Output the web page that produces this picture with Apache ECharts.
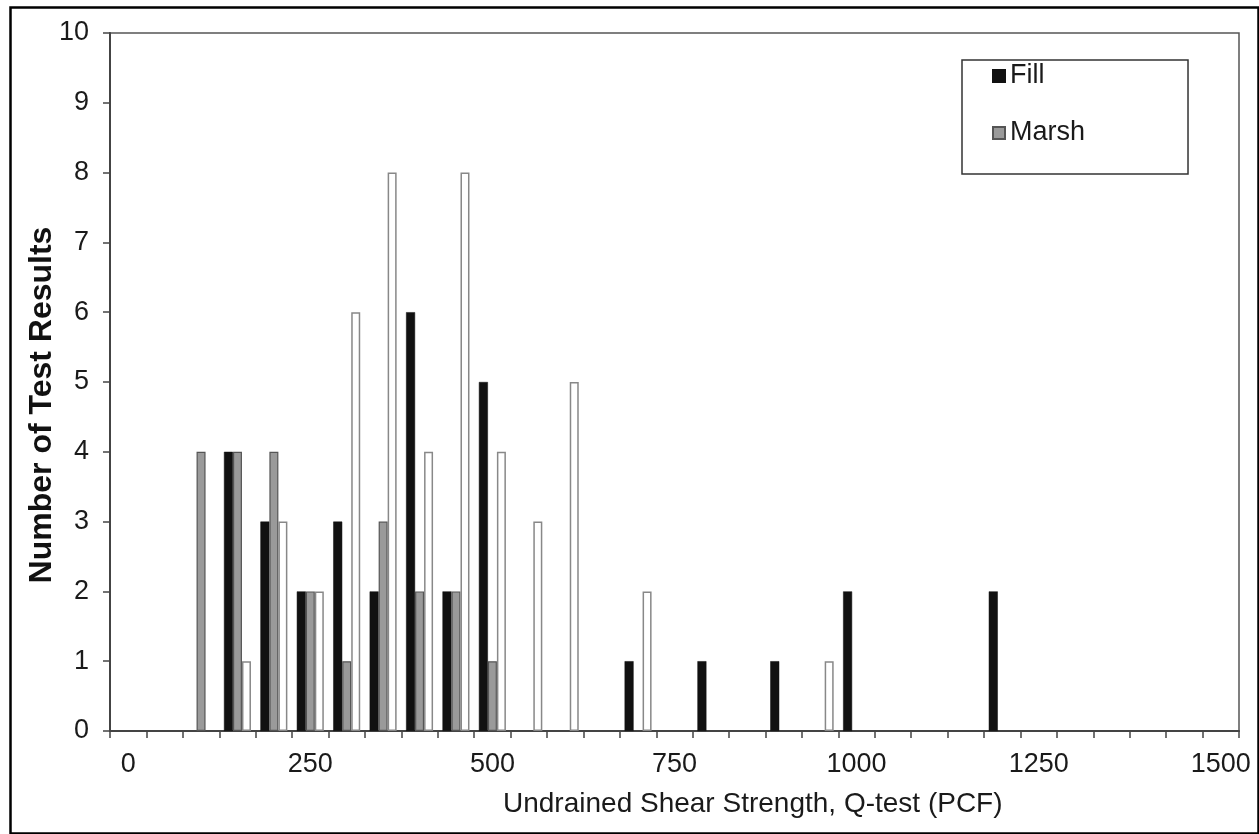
<!DOCTYPE html>
<html>
<head>
<meta charset="utf-8">
<script src="https://cdn.jsdelivr.net/npm/echarts@6/dist/echarts.min.js"></script>
<style>
html,body{margin:0;padding:0;background:#fff;}
#chart{width:1259px;height:834px;}
</style>
</head>
<body>
<div id="chart"></div>
<script>
const categories = ['0','50','100','150','200','250','300','350','400','450','500','550','600','650','700','750','800','850','900','950','1000','1050','1100','1150','1200','1250','1300','1350','1400','1450','1500'];
const fillValues  = [0,0,0,4,3,2,3,2,6,2,5,0,0,0,1,0,1,0,1,0,2,0,0,0,2,0,0,0,0,0,0];
const marshValues = [0,0,4,4,4,2,1,3,2,2,1,0,0,0,0,0,0,0,0,0,0,0,0,0,0,0,0,0,0,0,0];
const otherValues = [0,0,0,1,3,2,6,8,4,8,4,3,5,0,2,0,0,0,0,1,0,0,0,0,0,0,0,0,0,0,0];
const yTicks = [0,1,2,3,4,5,6,7,8,9,10];

// zero counts are drawn as no bar at all
const noZero = arr => arr.map(v => (v === 0 ? null : v));

const FONT = "'Liberation Sans', Arial, sans-serif";
const chart = echarts.init(document.getElementById('chart'), null, {renderer:'canvas'});
chart.setOption({
  animation:false,
  backgroundColor:'#fff',
  textStyle:{fontFamily:FONT},
  grid:{left:110,right:20,top:33,bottom:103,show:true,borderColor:'#555',borderWidth:1.5,backgroundColor:'transparent'},
  legend:{
    data:['Fill','Marsh'],
    orient:'vertical',
    left:962, top:60,
    padding:[2,103,27,30],
    itemGap:29,
    itemWidth:12, itemHeight:12,
    icon:'rect',
    borderColor:'#333', borderWidth:1.5,
    backgroundColor:'#fff',
    textStyle:{fontSize:27,color:'#1a1a1a',fontFamily:FONT,lineHeight:28}
  },
  xAxis:{
    type:'category',
    data:categories,
    boundaryGap:true,
    axisLine:{lineStyle:{color:'#444',width:2}},
    axisTick:{show:true,interval:0,length:7,lineStyle:{color:'#444',width:1.5}},
    axisLabel:{interval:4,fontSize:27,color:'#1a1a1a',margin:20,fontFamily:FONT},
    splitLine:{show:false}
  },
  yAxis:{
    type:'value',
    min:yTicks[0], max:yTicks[yTicks.length-1], interval:1,
    axisLine:{show:true,lineStyle:{color:'#444',width:2}},
    axisTick:{show:true,length:7,lineStyle:{color:'#444',width:1.5}},
    axisLabel:{fontSize:27,color:'#1a1a1a',margin:21,fontFamily:FONT},
    splitLine:{show:false}
  },
  series:[
    {name:'Fill',type:'bar',data:noZero(fillValues),barWidth:9,barGap:'0%',
     itemStyle:{color:'#111',borderColor:'#111',borderWidth:0.5}},
    {name:'Marsh',type:'bar',data:noZero(marshValues),barWidth:9,barGap:'0%',
     itemStyle:{color:'#9a9a9a',borderColor:'#555',borderWidth:1.2}},
    {name:'Other',type:'bar',data:noZero(otherValues),barWidth:9,barGap:'0%',
     itemStyle:{color:'#fff',borderColor:'#888',borderWidth:1.5}}
  ],
  graphic:[
    {type:'rect',left:8,top:5,shape:{x:0,y:0,width:1248,height:826},
     style:{fill:'none',stroke:'#000',lineWidth:2.5},silent:true,z:100},
    {type:'text',left:503,top:790,
     style:{text:'Undrained Shear Strength, Q-test (PCF)',font:"28px 'Liberation Sans', Arial, sans-serif",fill:'#1a1a1a'}},
    {type:'text',x:42,y:405,rotation:Math.PI/2,
     style:{text:'Number of Test Results',font:"bold 32px 'Liberation Sans', Arial, sans-serif",fill:'#111',align:'center',verticalAlign:'middle'}}
  ]
});
</script>
</body>
</html>
